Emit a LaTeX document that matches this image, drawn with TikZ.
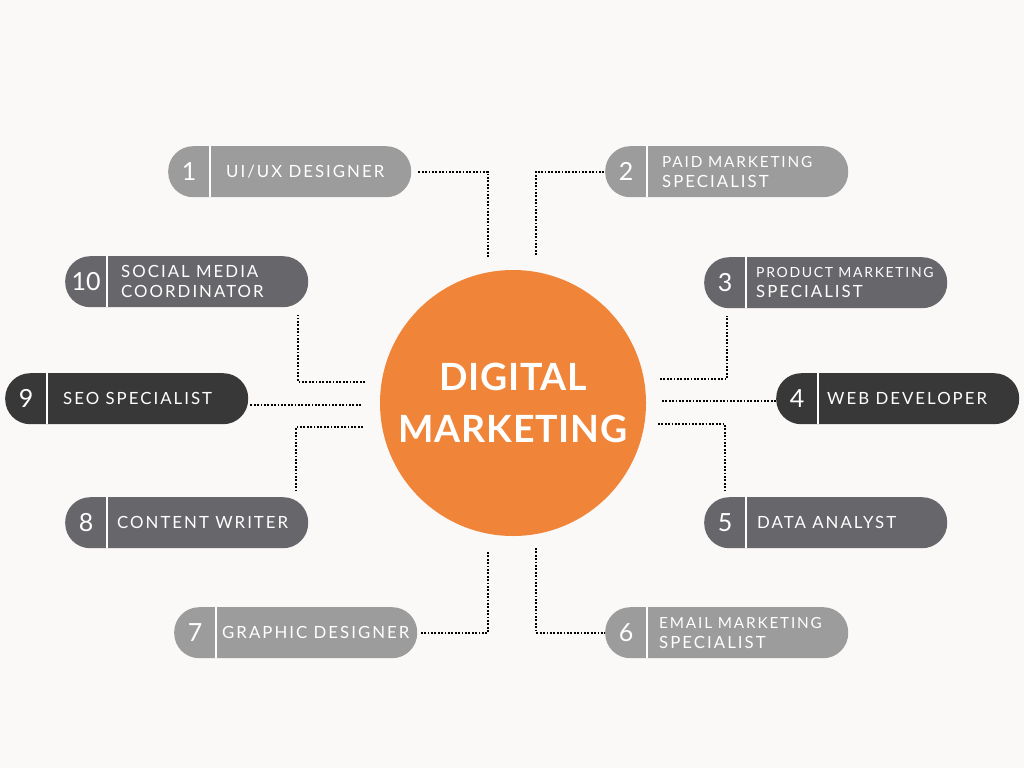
\documentclass[tikz,border=0pt]{standalone}
\usepackage{fontspec}
\setmainfont{Lato}
\newfontfamily\labelfont{Lato}[LetterSpace=12]
\newfontfamily\titlefont{Lato}[LetterSpace=2]
\usetikzlibrary{positioning}
\definecolor{bgpaper}{HTML}{FAF9F7}
\definecolor{dmorange}{HTML}{F08439}
\definecolor{lightg}{HTML}{9C9C9C}
\definecolor{midg}{HTML}{67666A}
\definecolor{darkg}{HTML}{383838}

\begin{document}
\begin{tikzpicture}[x=1pt,y=-1pt,
  pill/.style={rectangle,rounded corners=25pt,minimum width=243pt,minimum height=51pt,inner sep=0pt,anchor=north west},
  num/.style={text=white,font=\fontsize{25}{25}\selectfont,inner sep=0pt},
  lbl/.style={text=white,font=\labelfont\fontsize{16.8}{20}\selectfont,align=left,anchor=west,inner sep=0pt},
  link/.style={line width=2.1pt,dash pattern=on 1.8pt off 1.6pt}]
\fill[bgpaper] (0,0) rectangle (1024,768);
\node[circle,fill=dmorange,minimum size=266pt,text=white,font=\titlefont\bfseries\fontsize{37.5}{52}\selectfont,align=center] (dm) at (513,403) {DIGITAL\\MARKETING};
\foreach \n/\x/\y/\col/\off/\txt in {
  1/168/146/lightg/58/{UI/UX DESIGNER},
  2/605/146/lightg/57/{\fontsize{15.3}{20}\selectfont PAID MARKETING\\SPECIALIST},
  3/704/257/midg/52/{\fontsize{14}{20}\selectfont PRODUCT MARKETING\\SPECIALIST},
  4/776/373/darkg/51/{WEB DEVELOPER},
  5/704/497/midg/53/{DATA ANALYST},
  6/605/607/lightg/54/{\fontsize{15.3}{20}\selectfont EMAIL MARKETING\\SPECIALIST},
  7/174/607/lightg/48/{GRAPHIC DESIGNER},
  8/65/497/midg/52/{CONTENT WRITER},
  9/5/373/darkg/58/{SEO SPECIALIST},
  10/65/256/midg/56/{SOCIAL MEDIA\\COORDINATOR}}{
  \node[pill,fill=\col] (p\n) at (\x,\y) {};
  \node[num] (n\n) at ([xshift=21pt]p\n.west) {\n};
  \draw[white,line width=2pt] ([xshift=42pt]p\n.north west) -- ([xshift=42pt]p\n.south west);
  \node[lbl] (t\n) at ([xshift=\off pt]p\n.west) {\txt};
}
\coordinate (e1) at (488,258);
\coordinate (e2) at (536,255);
\coordinate (e3) at (660,379);
\coordinate (e4) at (662,401);
\coordinate (e5) at (658,424);
\coordinate (e6) at (536,548);
\coordinate (e7) at (488,552);
\coordinate (e8) at (363,427);
\coordinate (e9) at (361,405);
\coordinate (e10) at (365,382);
\draw[link] ([xshift=7pt]p1.east) -| (e1);
\draw[link] (e2) |- (p2.west);
\draw[link] (e3) -| ([xshift=23pt,yshift=-8pt]p3.south west);
\draw[link] (e4) -- (e4 -| p4.west);
\draw[link] (e5) -| ([xshift=21pt,yshift=7pt]p5.north west);
\draw[link] (e6) |- (p6.west);
\draw[link] (e7) |- ([xshift=3pt]p7.east);
\draw[link] (e8) -| ([xshift=-12pt,yshift=6pt]p8.north east);
\draw[link] (e9) -- ([xshift=2pt]e9 -| p9.east);
\draw[link] (e10) -| ([xshift=-10pt,yshift=-8pt]p10.south east);
\end{tikzpicture}
\end{document}
